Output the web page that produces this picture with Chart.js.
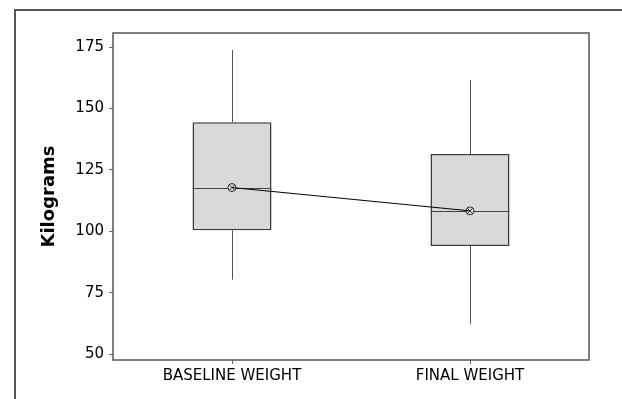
<!DOCTYPE html>
<html>
<head>
<meta charset="utf-8">
<script src="https://cdn.jsdelivr.net/npm/chart.js@4"></script>
<style>
  html, body { margin: 0; padding: 0; background: #fff; }
  #wrap { position: relative; width: 622px; height: 399px; overflow: hidden; }
  #frame { position: absolute; left: 14px; top: 9px; width: 700px; height: 500px;
           border-top: 2px solid #555; border-left: 2px solid #555; box-sizing: border-box; }
  canvas { position: absolute; left: 0; top: 0; }
</style>
</head>
<body>
<div id="wrap">
  <div id="frame"></div>
  <canvas id="box" width="622" height="399"></canvas>
</div>
<script>
// data
const categories = ['BASELINE WEIGHT', 'FINAL WEIGHT'];
const whiskerLow = [80.3, 62.3];
const q1 = [100.4, 94.0];
const median = [117.8, 108.3];
const q3 = [144.4, 131.4];
const whiskerHigh = [173.8, 161.6];
const means = [117.8, 108.3];
const yTicks = [50, 75, 100, 125, 150, 175];

const font = 'DejaVu Sans, Verdana, sans-serif';

// whiskers + medians, drawn right after the boxes
const boxExtras = {
  id: 'boxExtras',
  afterDatasetDraw(chart, args) {
    if (args.index !== 2) return;
    const ctx = chart.ctx;
    const y = chart.scales.y;
    const bars = chart.getDatasetMeta(2).data;
    ctx.save();
    ctx.lineWidth = 1;
    bars.forEach((bar, i) => {
      const x = Math.round(bar.x) + 0.5;
      ctx.strokeStyle = '#555';
      ctx.beginPath();
      ctx.moveTo(x, y.getPixelForValue(q3[i]));
      ctx.lineTo(x, y.getPixelForValue(whiskerHigh[i]));
      ctx.moveTo(x, y.getPixelForValue(q1[i]));
      ctx.lineTo(x, y.getPixelForValue(whiskerLow[i]));
      ctx.stroke();
      const my = Math.round(y.getPixelForValue(median[i])) + 0.5;
      ctx.strokeStyle = '#444';
      ctx.beginPath();
      ctx.moveTo(bar.x - bar.width / 2, my);
      ctx.lineTo(bar.x + bar.width / 2, my);
      ctx.stroke();
    });
    ctx.restore();
  },
  afterDraw(chart) {
    const a = chart.chartArea;
    const ctx = chart.ctx;
    ctx.save();
    ctx.strokeStyle = '#555';
    ctx.lineWidth = 1.5;
    ctx.strokeRect(a.left, a.top, a.right - a.left, a.bottom - a.top);
    ctx.restore();
  }
};

new Chart(document.getElementById('box'), {
  data: {
    labels: categories,
    datasets: [
      {
        type: 'line',
        data: means,
        borderColor: '#000',
        borderWidth: 1,
        pointStyle: 'crossRot',
        pointRadius: 4,
        pointBorderColor: '#333',
        pointBorderWidth: 1
      },
      {
        type: 'line',
        data: means,
        showLine: false,
        pointStyle: 'circle',
        pointRadius: 4,
        pointBackgroundColor: '#d9d9d9',
        pointBorderColor: '#333',
        pointBorderWidth: 1
      },
      {
        type: 'bar',
        data: categories.map((c, i) => [q1[i], q3[i]]),
        backgroundColor: '#d9d9d9',
        borderColor: '#3a3a3a',
        borderWidth: 1.5,
        borderSkipped: false,
        grouped: false,
        categoryPercentage: 1,
        barPercentage: 0.332
      }
    ]
  },
  options: {
    responsive: false,
    animation: false,
    layout: { padding: { left: 0, top: 33, right: 33, bottom: 0 } },
    plugins: { legend: { display: false }, tooltip: { enabled: false } },
    scales: {
      x: {
        type: 'category',
        offset: true,
        grid: { offset: false, drawOnChartArea: false, tickLength: 4, color: '#666' },
        border: { display: false },
        ticks: { color: '#000', padding: 3, font: { family: font, size: 15 }, maxRotation: 0 },
        afterFit(s) { s.height = 39; }
      },
      y: {
        min: 47.6,
        max: 180.7,
        grid: { drawOnChartArea: false, tickLength: 4, color: '#666' },
        border: { display: false },
        ticks: { color: '#000', padding: 5, font: { family: font, size: 15 } },
        afterBuildTicks(s) { s.ticks = yTicks.map(v => ({ value: v })); },
        afterFit(s) { s.width = 113; },
        title: {
          display: true,
          text: 'Kilograms',
          color: '#000',
          font: { family: font, size: 18, weight: 'bold' },
          padding: { top: 39, bottom: 0 }
        }
      }
    }
  },
  plugins: [boxExtras]
});
</script>
</body>
</html>
